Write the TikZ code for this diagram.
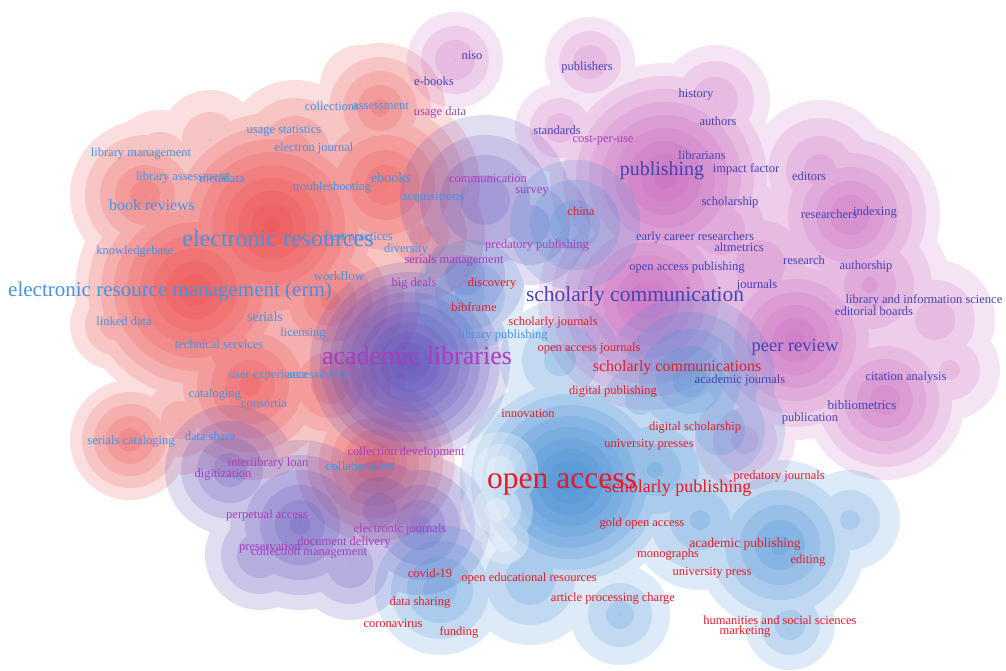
\documentclass[tikz,border=0pt]{standalone}
\usepackage{fontspec}
\setmainfont{Liberation Serif}
\definecolor{ered}{RGB}{236,62,62}
\definecolor{eblue}{RGB}{58,134,212}
\definecolor{evio}{RGB}{90,74,185}
\definecolor{epink}{RGB}{196,88,186}
\definecolor{tblue}{RGB}{70,146,226}
\definecolor{tpurp}{RGB}{168,62,190}
\definecolor{tdark}{RGB}{68,68,178}
\definecolor{tred}{RGB}{228,28,40}
\newcommand\kwsize[1]{\fontsize{#1}{#1}\selectfont}
\tikzset{
  kw/.style={inner sep=0pt, font=\kwsize{12.5}},
  kwb/.style={kw, text=tblue},
  kwp/.style={kw, text=tpurp},
  kwd/.style={kw, text=tdark},
  kwr/.style={kw, text=tred}
}
% density levels: colour, opacity per level, blobs x/y/radius/step
\newcommand\densitylayer[3]{%
  \foreach \lev in {0,...,10}{%
    \begin{scope}[transparency group, opacity=#2]
      \foreach \px/\py/\w/\s in {#3}{
        \pgfmathsetmacro\rr{\w-\s*\lev}
        \pgfmathsetmacro\rr{\rr<8 ? 0.01 : \rr}
        \fill[fill=#1] (\px,\py) circle[radius=\rr pt];
      }
    \end{scope}
  }%
}
\begin{document}
\begin{tikzpicture}[x=1pt,y=-1pt]
    \useasboundingbox (0,0) rectangle (1006,671);
    \fill[white] (0,0) rectangle (1006,671);
    % density
    \densitylayer{ered}{0.16}{272/225/125/13, 195/290/120/13, 145/195/75/15,
        385/185/95/15, 380/108/65/14, 295/150/70/18, 250/385/95/14,
        130/440/60/12, 375/462/80/12, 115/325/45/15, 330/300/90/16,
        210/140/50/22, 360/85/40/22, 420/235/65/18, 230/350/80/15,
        330/385/75/14, 180/420/55/18, 160/160/50/22}
    \densitylayer{evio}{0.18}{410/362/100/10, 300/525/85/15, 230/470/65/16,
        485/200/85/20, 420/525/70/15, 465/275/60/20, 350/565/55/16,
        530/225/60/20, 260/555/55/16, 380/510/65/16}
    \densitylayer{epink}{0.16}{665/178/115/13, 648/300/110/13, 795/340/100/13,
        885/400/80/13, 850/215/90/14, 870/285/80/18, 935/320/60/20,
        455/60/48/14, 590/62/45/14, 715/100/55/16, 560/128/45/15,
        760/265/85/20, 950/370/50/20, 745/440/50/18, 820/170/70/18,
        720/230/85/20}
    \densitylayer{eblue}{0.17}{570/482/110/11, 655/470/80/18, 780/545/85/15,
        690/380/85/17, 440/590/65/16, 530/580/65/20, 790/625/45/15,
        575/225/65/20, 470/295/55/20, 620/615/50/18, 720/430/65/20,
        850/520/50/20, 560/360/60/22, 700/520/70/20, 640/400/55/20}
    \densitylayer{white}{0.28}{500/470/38/12, 497/510/36/12, 505/540/24/12}
    % cluster 1
    \node[kwb, font=\kwsize{21}] (erm) at (170,291) {electronic resource management (erm)};
    \node[kwb, font=\kwsize{24}] (eres) at (278,238) {electronic resources};
    \node[kwb, font=\kwsize{16}] (bookrev) at (152,205) {book reviews};
    \node[kwb] (libman) at (141,154) {library management};
    \node[kwb] (libass) at (182,178) {library assessment};
    \node[kwb] (metadata) at (222,178) {metadata};
    \node[kwb] (knowbase) at (135,252) {knowledgebase};
    \node[kwb] (linked) at (124,321) {linked data};
    \node[kwb, font=\kwsize{14}] (serials) at (265,317) {serials};
    \node[kwb] (licensing) at (303,334) {licensing};
    \node[kwb] (techserv) at (219,344) {technical services};
    \node[kwb] (userexp) at (268,376) {user experience};
    \node[kwb] (access) at (318,376) {accessibility};
    \node[kwb] (catalog) at (215,395) {cataloging};
    \node[kwb] (consort) at (264,403) {consortia};
    \node[kwb] (sercat) at (131,442) {serials cataloging};
    \node[kwb] (datashare) at (210,436) {data share};
    \node[kwb, font=\kwsize{13}] (collab) at (360,466) {collaboration};
    \node[kwb] (usagestat) at (284,131) {usage statistics};
    \node[kwb] (ejournal) at (314,148) {electron journal};
    \node[kwb] (collections) at (332,106) {collections};
    \node[kwb] (assess) at (381,106) {assessment};
    \node[kwb] (trouble) at (332,188) {troubleshooting};
    \node[kwb, font=\kwsize{14}] (ebooks) at (391,178) {ebooks};
    \node[kwb, font=\kwsize{13}] (acq) at (433,198) {acquisitions};
    \node[kwb] (bestprac) at (359,237) {best practices};
    \node[kwb] (diversity) at (406,250) {diversity};
    \node[kwb, font=\kwsize{13}] (workflow) at (339,276) {workflow};
    \node[kwb] (libpub) at (503,336) {library publishing};
    % cluster 2
    \node[kwp, font=\kwsize{26}] (acadlib) at (417,356) {academic libraries};
    \node[kwp] (comm) at (488,178) {communication};
    \node[kwp] (survey) at (532,192) {survey};
    \node[kwp] (predpub) at (537,246) {predatory publishing};
    \node[kwp] (serman) at (454,261) {serials management};
    \node[kwp] (bigdeals) at (414,284) {big deals};
    \node[kwp] (usagedata) at (440,113) {usage data};
    \node[kwp] (costuse) at (603,140) {cost-per-use};
    \node[kwp] (colldev) at (406,452) {collection development};
    \node[kwp] (ill) at (268,464) {interlibrary loan};
    \node[kwp] (digit) at (223,475) {digitization};
    \node[kwp] (perpet) at (267,515) {perpetual access};
    \node[kwp] (ejournals) at (400,529) {electronic journals};
    \node[kwp] (docdel) at (344,543) {document delivery};
    \node[kwp] (preserv) at (270,548) {preservation};
    \node[kwp] (collman) at (309,553) {collection management};
    % cluster 3
    \node[kwd] (niso) at (472,55) {niso};
    \node[kwd] (ebooks2) at (434,81) {e-books};
    \node[kwd] (publishers) at (587,67) {publishers};
    \node[kwd] (standards) at (557,130) {standards};
    \node[kwd] (history) at (696,95) {history};
    \node[kwd] (authors) at (718,121) {authors};
    \node[kwd] (librarians) at (702,155) {librarians};
    \node[kwd, font=\kwsize{20}] (publishing) at (662,171) {publishing};
    \node[kwd] (impact) at (746,169) {impact factor};
    \node[kwd] (editors) at (809,176) {editors};
    \node[kwd] (scholarship) at (730,202) {scholarship};
    \node[kwd] (researchers) at (829,214) {researchers};
    \node[kwd] (indexing) at (875,213) {indexing};
    \node[kwd] (ecr) at (695,238) {early career researchers};
    \node[kwd] (altm) at (739,247) {altmetrics};
    \node[kwd] (oapub) at (687,268) {open access publishing};
    \node[kwd] (research) at (804,260) {research};
    \node[kwd] (authorship) at (866,266) {authorship};
    \node[kwd, font=\kwsize{21.5}] (scholcomm) at (635,296) {scholarly communication};
    \node[kwd] (journals) at (757,285) {journals};
    \node[kwd] (lis) at (924,300) {library and information science};
    \node[kwd] (edboards) at (874,311) {editorial boards};
    \node[kwd, font=\kwsize{18.5}] (peer) at (795,347) {peer review};
    \node[kwd] (acadjour) at (740,380) {academic journals};
    \node[kwd] (citation) at (906,378) {citation analysis};
    \node[kwd, font=\kwsize{13}] (biblio) at (862,405) {bibliometrics};
    \node[kwd] (publication) at (810,418) {publication};
    % cluster 4
    \node[kwr] (china) at (581,211) {china};
    \node[kwr] (discovery) at (492,284) {discovery};
    \node[kwr] (bibframe) at (474,307) {bibframe};
    \node[kwr] (scholjour) at (553,323) {scholarly journals};
    \node[kwr] (oajour) at (589,348) {open access journals};
    \node[kwr, font=\kwsize{16}] (scholcomms) at (677,368) {scholarly communications};
    \node[kwr] (digpub) at (613,392) {digital publishing};
    \node[kwr] (innov) at (528,413) {innovation};
    \node[kwr] (digschol) at (695,428) {digital scholarship};
    \node[kwr] (unipresses) at (649,445) {university presses};
    \node[kwr, font=\kwsize{31.5}] (oa) at (562,484) {open access};
    \node[kwr, font=\kwsize{18}] (scholpub) at (678,488) {scholarly publishing};
    \node[kwr] (predjour) at (779,477) {predatory journals};
    \node[kwr] (goldoa) at (642,524) {gold open access};
    \node[kwr, font=\kwsize{13.5}] (acadpub) at (745,544) {academic publishing};
    \node[kwr] (monographs) at (668,555) {monographs};
    \node[kwr] (editing) at (808,561) {editing};
    \node[kwr] (unipress) at (712,573) {university press};
    \node[kwr] (covid) at (430,573) {covid-19};
    \node[kwr] (oer) at (529,578) {open educational resources};
    \node[kwr] (apc) at (613,599) {article processing charge};
    \node[kwr] (datashar) at (420,603) {data sharing};
    \node[kwr] (corona) at (393,623) {coronavirus};
    \node[kwr] (funding) at (459,632) {funding};
    \node[kwr] (hss) at (780,620) {humanities and social sciences};
    \node[kwr] (marketing) at (745,632) {marketing};
\end{tikzpicture}
\end{document}
